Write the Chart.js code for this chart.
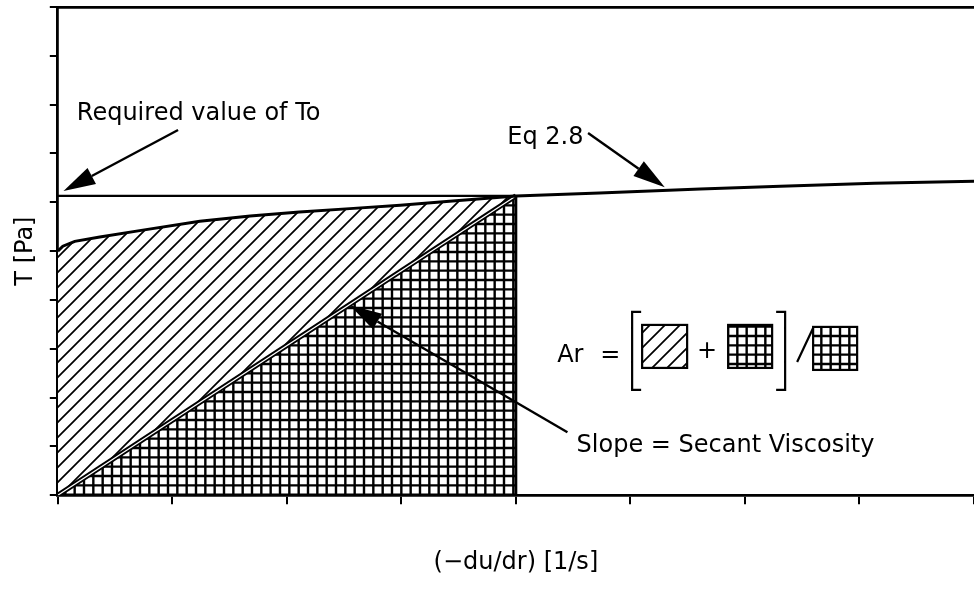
<!DOCTYPE html>
<html>
<head>
<meta charset="utf-8">
<script src="https://cdn.jsdelivr.net/npm/chart.js@4.4.0/dist/chart.umd.min.js"></script>
<style>
  html, body { margin: 0; padding: 0; background: #fff; }
  #wrap { width: 974px; height: 609px; position: relative; }
</style>
</head>
<body>
<div id="wrap"><canvas id="flowChart"></canvas></div>
<script>
// tick positions, in axis units
const xTicks = [0, 1, 2, 3, 4, 5, 6, 7, 8];
const yTicks = [0, 1, 2, 3, 4, 5, 6, 7, 8, 9, 10];

// Eq 2.8 flow curve
const curveX = [0, 0.044, 0.148, 0.367, 0.742, 1.24, 1.68, 2.11, 2.55, 2.99, 3.42, 4.0, 4.73, 5.61, 6.31, 7.13, 8.0];
const curveY = [5.00, 5.10, 5.20, 5.29, 5.43, 5.61, 5.72, 5.80, 5.87, 5.94, 6.02, 6.13, 6.19, 6.27, 6.33, 6.39, 6.43];

// required To and the shear rate where the curve reaches it
const tauRequired = 6.13;
const rateAtTau = 4.0;

// secant from the origin
const secantX = [0, rateAtTau];
const secantY = [0, tauRequired];

const FONT = '"DejaVu Sans", sans-serif';

function pts(xs, ys) {
    return xs.map((x, i) => ({ x: x, y: ys[i] }));
}

// hatch and grid fills
function makePattern(size, draw) {
    const tile = document.createElement('canvas');
    tile.width = size;
    tile.height = size;
    const c = tile.getContext('2d');
    c.fillStyle = '#fff';
    c.fillRect(0, 0, size, size);
    c.strokeStyle = '#000';
    draw(c, size);
    return document.createElement('canvas').getContext('2d').createPattern(tile, 'repeat');
}

const hatch = makePattern(15, (c, s) => {
    c.lineWidth = 1.7;
    c.beginPath();
    c.moveTo(-1, s + 1); c.lineTo(s + 1, -1);
    c.moveTo(-2, 2); c.lineTo(2, -2);
    c.moveTo(s - 2, s + 2); c.lineTo(s + 2, s - 2);
    c.stroke();
});

const grid = makePattern(28, (c, s) => {
    c.lineWidth = 2.4;
    c.beginPath();
    for (let k = 0; k <= 3; k++) {
        const p = k * s / 3;
        c.moveTo(p, 0); c.lineTo(p, s);
        c.moveTo(0, p); c.lineTo(s, p);
    }
    c.stroke();
});

const hatchPts = pts(curveX, curveY).filter(p => p.x <= rateAtTau);

// labels and arrows, in axis units
const notes = [
    { text: 'Required value of To', x: 0.166, y: 7.68, from: [1.05, 7.48], to: [0.05, 6.23] },
    { text: 'Eq 2.8', x: 4.59, y: 7.19, align: 'right', from: [4.63, 7.42], to: [5.30, 6.31] },
    { text: 'Slope = Secant Viscosity', x: 4.53, y: 0.88, from: [4.45, 1.29], to: [2.55, 3.89] }
];
const arLabel = { x: 4.36, y: 2.73 };

function arrow(ctx, x1, y1, x2, y2) {
    const a = Math.atan2(y2 - y1, x2 - x1);
    const len = 32, half = 9;
    const bx = x2 - len * Math.cos(a), by = y2 - len * Math.sin(a);
    ctx.beginPath();
    ctx.moveTo(x1, y1);
    ctx.lineTo(bx, by);
    ctx.lineWidth = 2.4;
    ctx.stroke();
    ctx.beginPath();
    ctx.moveTo(x2, y2);
    ctx.lineTo(bx + half * Math.sin(a), by - half * Math.cos(a));
    ctx.lineTo(bx - half * Math.sin(a), by + half * Math.cos(a));
    ctx.closePath();
    ctx.fill();
}

function box(ctx, x, y, w, h, fill) {
    ctx.fillStyle = fill;
    ctx.fillRect(x, y, w, h);
    ctx.lineWidth = 2.2;
    ctx.strokeRect(x, y, w, h);
    ctx.fillStyle = '#000';
}

const notesPlugin = {
    id: 'notes',
    afterDatasetsDraw(chart) {
        const { ctx, scales: { x, y } } = chart;
        ctx.save();
        ctx.fillStyle = '#000';
        ctx.strokeStyle = '#000';
        ctx.font = '24px ' + FONT;
        ctx.textBaseline = 'alphabetic';
        notes.forEach(n => {
            ctx.textAlign = n.align || 'left';
            ctx.fillText(n.text, x.getPixelForValue(n.x), y.getPixelForValue(n.y));
            arrow(ctx, x.getPixelForValue(n.from[0]), y.getPixelForValue(n.from[1]),
                x.getPixelForValue(n.to[0]), y.getPixelForValue(n.to[1]));
        });

        // Ar = [ hatch + grid ] / grid
        const ax = x.getPixelForValue(arLabel.x);
        const ay = y.getPixelForValue(arLabel.y);
        ctx.textAlign = 'left';
        ctx.fillText('Ar', ax, ay);
        ctx.fillText('=', ax + 43, ay);
        ctx.lineWidth = 2.2;
        ctx.beginPath();
        ctx.moveTo(ax + 84, ay - 50); ctx.lineTo(ax + 75, ay - 50);
        ctx.lineTo(ax + 75, ay + 28); ctx.lineTo(ax + 84, ay + 28);
        ctx.moveTo(ax + 219, ay - 50); ctx.lineTo(ax + 228, ay - 50);
        ctx.lineTo(ax + 228, ay + 28); ctx.lineTo(ax + 219, ay + 28);
        ctx.moveTo(ax + 240, ay); ctx.lineTo(ax + 256, ay - 34);
        ctx.stroke();
        box(ctx, ax + 85, ay - 37, 45, 43, hatch);
        ctx.textAlign = 'center';
        ctx.fillText('+', ax + 150, ay - 4);
        box(ctx, ax + 171, ay - 37, 44, 43, grid);
        box(ctx, ax + 256, ay - 35, 44, 43, grid);
        ctx.restore();
    }
};

function tickList(values) {
    return scale => { scale.ticks = values.map(v => ({ value: v })); };
}

const lineDefaults = { pointRadius: 0, tension: 0, borderColor: '#000', fill: false };

new Chart(document.getElementById('flowChart'), {
    type: 'line',
    data: {
        datasets: [
            { ...lineDefaults, data: hatchPts, borderWidth: 0, fill: 'start', backgroundColor: hatch, order: 6 },
            { ...lineDefaults, data: pts(secantX, secantY), borderWidth: 0, fill: 'start', backgroundColor: grid, order: 5 },
            { ...lineDefaults, data: pts(secantX, secantY), borderWidth: 5, order: 4 },
            { ...lineDefaults, data: pts(secantX, secantY), borderWidth: 1.3, borderColor: '#fff', order: 3 },
            { ...lineDefaults, data: pts([rateAtTau, rateAtTau], [0, tauRequired]), borderWidth: 2.8, order: 2 },
            { ...lineDefaults, data: pts([0, rateAtTau], [tauRequired, tauRequired]), borderWidth: 2.2, order: 2 },
            { ...lineDefaults, data: pts(curveX, curveY), borderWidth: 3, order: 1 }
        ]
    },
    options: {
        responsive: true,
        maintainAspectRatio: false,
        animation: false,
        layout: { padding: { top: 7, left: 0, right: 0, bottom: 0 } },
        plugins: { legend: { display: false }, tooltip: { enabled: false } },
        scales: {
            x: {
                type: 'linear', position: 'bottom', min: 0, max: 8,
                afterBuildTicks: tickList(xTicks),
                ticks: { display: false },
                grid: { drawOnChartArea: false, drawTicks: true, tickLength: 9, color: '#000', lineWidth: 2 },
                border: { color: '#000', width: 2.8 },
                title: {
                    display: true, text: '(\u2212du/dr) [1/s]', color: '#000',
                    font: { family: FONT, size: 24 }, padding: { top: 44, bottom: 32 }
                }
            },
            xTop: {
                type: 'linear', position: 'top', min: 0, max: 8,
                ticks: { display: false },
                grid: { display: false, drawTicks: false },
                border: { color: '#000', width: 2.8 }
            },
            y: {
                type: 'linear', min: 0, max: 10,
                afterBuildTicks: tickList(yTicks),
                ticks: { display: false },
                grid: { drawOnChartArea: false, drawTicks: true, tickLength: 8, color: '#000', lineWidth: 2 },
                border: { color: '#000', width: 2.8 },
                title: {
                    display: true, text: 'T [Pa]', color: '#000',
                    font: { family: FONT, size: 24 }, padding: { top: 11, bottom: 10 }
                }
            }
        }
    },
    plugins: [notesPlugin]
});
</script>
</body>
</html>
